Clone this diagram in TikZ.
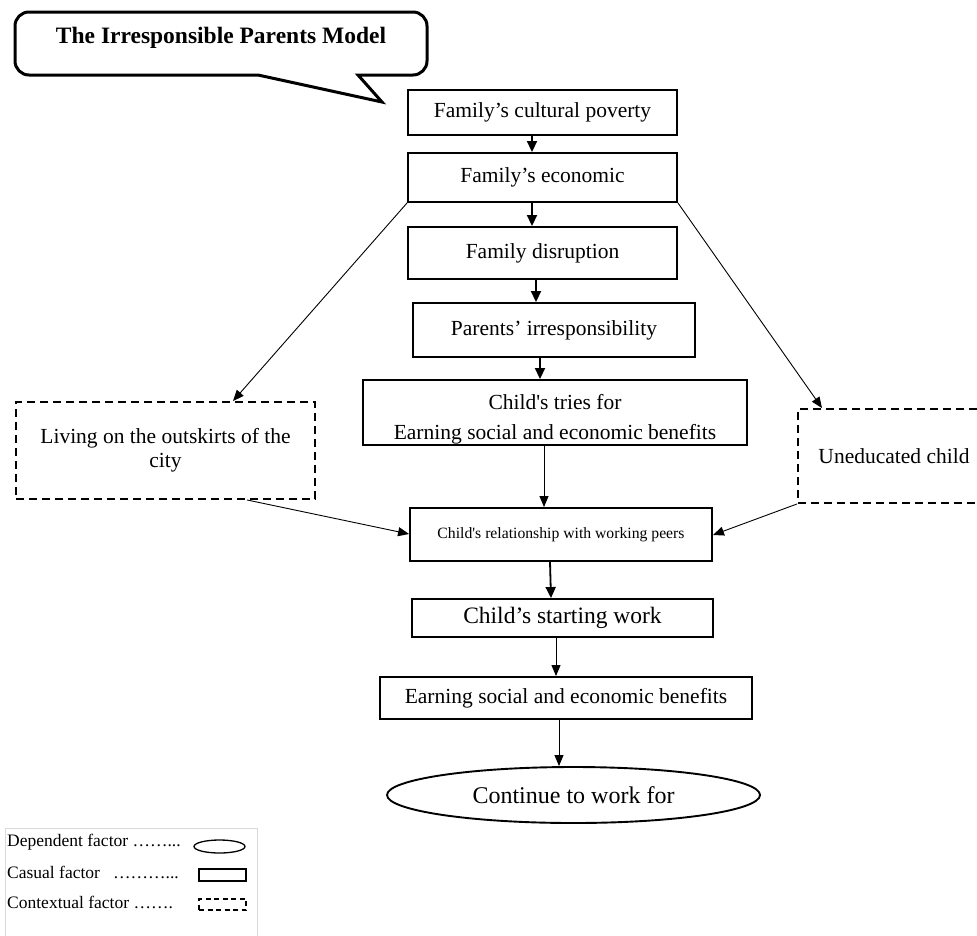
\documentclass[tikz,border=0pt]{standalone}
\usepackage{fontspec}
\setmainfont{Liberation Serif}
\usetikzlibrary{arrows.meta,shapes.geometric}
\newcommand\fsz[2]{\fontsize{#1}{#2}\selectfont}
\begin{document}
\begin{tikzpicture}[x=1pt,y=-1pt,
  fbox/.style={draw, line width=1.9pt, inner sep=0pt, font=\fsz{21.5}{30}, align=center},
  dbox/.style={draw, dash pattern=on 8pt off 5pt, line width=1.9pt, inner sep=0pt, font=\fsz{21.5}{24}, align=center},
  tharr/.style={line width=1.8pt, -{Triangle[length=11pt,width=10pt]}},
  tnarr/.style={line width=0.9pt, -{Triangle[length=11pt,width=9pt]}},
  legtext/.style={anchor=west, inner sep=0pt, font=\fsz{17.5}{20}},
]
\useasboundingbox (0,0) rectangle (977,935);
% callout
\draw[line width=3pt, line join=miter] (358,75) [rounded corners=14pt] -- (427,75) -- (427,12) -- (15,12) -- (15,75) [sharp corners] -- (258,75) -- (382,102) -- cycle;
\node[anchor=base, inner sep=0pt, font=\fsz{23.5}{28}\bfseries] (title) at (221,43) {The Irresponsible Parents Model};
% boxes
\node[fbox, minimum width=269pt, minimum height=45pt] (b1) at (542.5,112.5) {Family’s cultural poverty};
\node[fbox, minimum width=269pt, minimum height=49pt] (b2) at (542.5,177.5) {Family’s economic};
\node[fbox, minimum width=269pt, minimum height=52pt] (b3) at (542.5,253) {Family disruption};
\node[fbox, minimum width=282pt, minimum height=54pt] (b4) at (554,330) {Parents’ irresponsibility};
\node[fbox, minimum width=384pt, minimum height=65pt] (b5) at (555,412.5) {};
\node[inner sep=0pt, font=\fsz{21.5}{30}, align=center] (b5t) at (555,419) {Child\textquotesingle s tries for\\Earning social and economic benefits};
\node[fbox, minimum width=302pt, minimum height=53pt, font=\fsz{15.7}{19}] (b6) at (561,534.5) {Child\textquotesingle s relationship with working peers};
\node[fbox, minimum width=301pt, minimum height=38pt, font=\fsz{23.5}{28}] (b7) at (562.5,618) {Child’s starting work};
\node[fbox, minimum width=372pt, minimum height=42pt] (b8) at (566,698) {Earning social and economic benefits};
\node[draw, ellipse, line width=1.9pt, minimum width=373pt, minimum height=56pt, inner sep=0pt, font=\fsz{24}{28}] (ell) at (573.5,795) {Continue to work for};
\node[dbox, minimum width=299pt, minimum height=97pt] (ld) at (165.5,450.5) {Living on the outskirts of the\\city};
\node[dbox, minimum width=192pt, minimum height=94pt] (rd) at (894,456) {Uneducated child};
% connectors
\draw[tharr] (b1.south -| 532,0) -- (b2.north -| 532,0);
\draw[tharr] (b2.south -| 532,0) -- (b3.north -| 532,0);
\draw[tharr] (b3.south -| 536,0) -- (b4.north -| 536,0);
\draw[tharr] (b4.south -| 540,0) -- (b5.north -| 540,0);
\draw[tnarr] (b5.south -| 544,0) -- (b6.north -| 544,0);
\draw[tharr] (b6.south -| 550,0) -- (b7.north -| 551,0);
\draw[tnarr] (b7.south -| 556,0) -- (b8.north -| 556,0);
\draw[tnarr] (b8.south -| 559,0) -- (ell.north -| 559,0);
\draw[tnarr] (b2.south west) -- (ld.north -| 233,0);
\draw[tnarr] (b2.south east) -- (rd.north -| 822,0);
\draw[tnarr] (ld.south -| 247,0) -- (b6.west |- 0,534);
\draw[tnarr] (rd.south west) -- (b6.east |- 0,535);
% legend
\draw[gray!30, line width=1pt] (5,828) rectangle (257,945);
\node[legtext] (l1) at (7,842) {Dependent factor ……...};
\node[legtext] (l2) at (7,872) {Casual factor \ \ ………...};
\node[legtext] (l3) at (7,902) {Contextual factor …….};
\node[draw, ellipse, line width=1.3pt, minimum width=51pt, minimum height=13pt, inner sep=0pt] (s1) at (219.5,846.5) {};
\node[draw, line width=1.3pt, minimum width=47pt, minimum height=12pt, inner sep=0pt] (s2) at (222.5,875) {};
\node[draw, dash pattern=on 5pt off 3.5pt, line width=1.3pt, minimum width=47pt, minimum height=11pt, inner sep=0pt] (s3) at (222.5,904.5) {};
\end{tikzpicture}
\end{document}
